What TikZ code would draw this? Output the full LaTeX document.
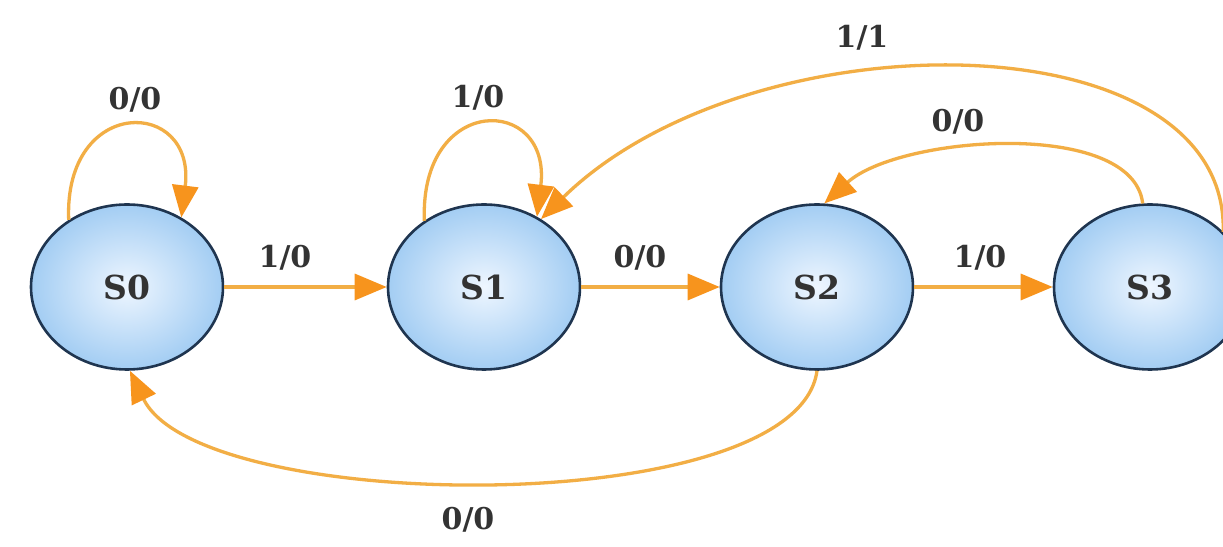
\documentclass[tikz,border=0pt]{standalone}
\usepackage{fontspec}
\setmainfont{DejaVu Serif}
\usetikzlibrary{shapes.geometric,arrows.meta}
\definecolor{edgeor}{HTML}{F2AE45}
\definecolor{tipor}{HTML}{F7941D}
\definecolor{nodefill}{HTML}{A3CDF3}
\definecolor{nodein}{HTML}{EEF6FF}
\definecolor{nodeline}{HTML}{1F3550}
\definecolor{txt}{HTML}{333333}
\tikzset{
  state/.style={ellipse, draw=nodeline, line width=2.6pt, shading=radial,
    inner color=nodein, outer color=nodefill, minimum width=192pt, minimum height=165pt,
    inner sep=0pt, text=txt, font=\bfseries\fontsize{33}{38}\selectfont},
  edge/.style={draw=edgeor, line width=3.3pt,
    -{Triangle[length=32pt,width=26pt,color=tipor]}},
  lbl/.style={text=txt, font=\bfseries\fontsize{30}{36}\selectfont, inner sep=0pt}
}
\begin{document}
\begin{tikzpicture}[x=1pt,y=1pt]
\useasboundingbox (0,0) rectangle (1223,546);
\fill[white] (0,0) rectangle (1223,546);
\node[state] (S0) at (127,259) {S0};
\node[state] (S1) at (484,259) {S1};
\node[state] (S2) at (817,259) {S2};
\node[state] (S3) at (1150,259) {S3};
% self loops
\draw[edge] (S0.131) .. controls +(-5,125) and +(15,120) .. (S0.52);
\draw[edge] (S1.132) .. controls +(-5,128) and +(15,122) .. (S1.53);
% straight edges
\draw[edge] (S0.east) -- (S1.west);
\draw[edge] (S1.east) -- (S2.west);
\draw[edge] (S2.east) -- (S3.west);
% S3 -> S2
\draw[edge] (S3.95) .. controls +(-10,85) and +(75,68) .. (S2.85);
% S3 -> S1
\draw[edge] (S3.37) .. controls +(5,215) and +(210,205) .. (S1.50);
% S2 -> S0
\draw[edge] (S2.270) .. controls +(-20,-150) and +(70,-145) .. (S0.272);
% labels
\node[lbl] (l00a) at (135,446) {0/0};
\node[lbl] (l10a) at (478,448) {1/0};
\node[lbl] (l11) at (862,508) {1/1};
\node[lbl] (l00b) at (958,424) {0/0};
\node[lbl] (l10b) at (285,288) {1/0};
\node[lbl] (l00c) at (640,288) {0/0};
\node[lbl] (l10c) at (980,288) {1/0};
\node[lbl] (l00d) at (468,26) {0/0};
\end{tikzpicture}
\end{document}
